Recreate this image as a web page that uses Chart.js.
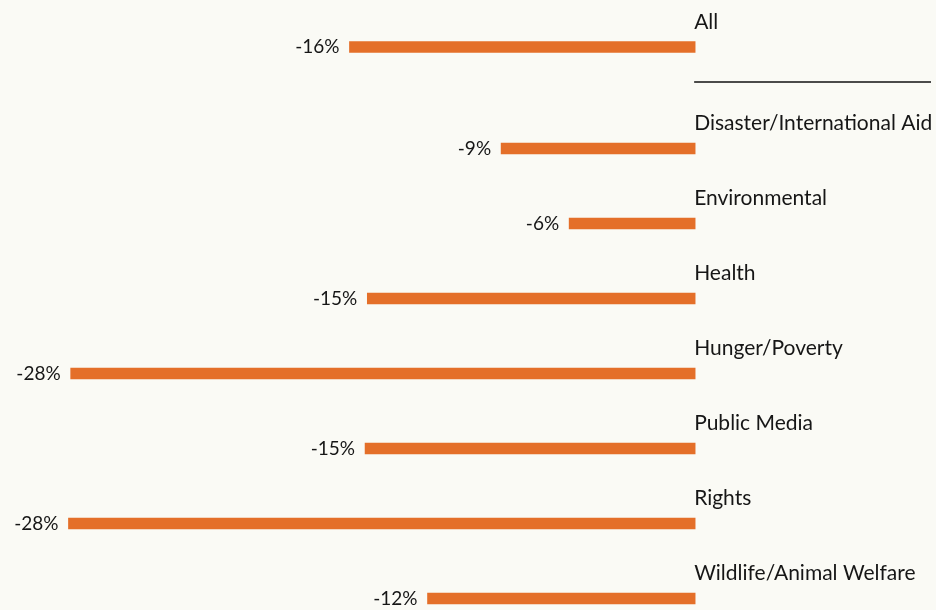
<!DOCTYPE html>
<html>
<head>
<meta charset="utf-8">
<script src="https://cdn.jsdelivr.net/npm/chart.js@4"></script>
<style>
  html, body { margin: 0; padding: 0; background: #fafaf5; width: 936px; height: 610px; overflow: hidden; }
  #topBox { position: absolute; left: 0; top: 0; width: 936px; height: 94px; }
  #mainBox { position: absolute; left: 0; top: 111px; width: 936px; height: 525px; }
</style>
</head>
<body>
<div id="topBox"><canvas id="topChart"></canvas></div>
<div id="mainBox"><canvas id="mainChart"></canvas></div>
<script>
// overall row
const totalLabels = ["All"];
const totalValues = [-15.5];
const totalText = ["-16%"];

// by cause
const categories = [
  "Disaster/International Aid",
  "Environmental",
  "Health",
  "Hunger/Poverty",
  "Public Media",
  "Rights",
  "Wildlife/Animal Welfare"
];
const changeValues = [-8.7, -5.65, -14.7, -28.0, -14.8, -28.1, -12.0];
const changeText = ["-9%", "-6%", "-15%", "-28%", "-15%", "-28%", "-12%"];

const BAR_COLOR = "#e46f29";
const TEXT_COLOR = "#161616";
const FONT = "Lato, 'Open Sans', sans-serif";

// names above the bar, value at the bar's left end
const barLabels = {
  id: "barLabels",
  afterDatasetsDraw(chart, args, opts) {
    const ctx = chart.ctx;
    const zeroX = chart.scales.x.getPixelForValue(0);
    const meta = chart.getDatasetMeta(0);
    ctx.save();
    ctx.fillStyle = TEXT_COLOR;
    ctx.textBaseline = "middle";
    meta.data.forEach((bar, i) => {
      ctx.font = "21px " + FONT;
      ctx.textAlign = "left";
      ctx.fillText(chart.data.labels[i], zeroX - 1, bar.y - 25);
      ctx.font = "19px " + FONT;
      ctx.textAlign = "right";
      ctx.fillText(opts.text[i], bar.x - 10, bar.y);
    });
    ctx.restore();
  }
};

// thin rule under the "All" row
const separator = {
  id: "separator",
  afterDraw(chart) {
    const ctx = chart.ctx;
    const zeroX = chart.scales.x.getPixelForValue(0);
    const y = chart.getDatasetMeta(0).data[0].y + 35;
    ctx.save();
    ctx.strokeStyle = "#111";
    ctx.lineWidth = 1.5;
    ctx.beginPath();
    ctx.moveTo(zeroX - 1, y);
    ctx.lineTo(chart.chartArea.right - 5, y);
    ctx.stroke();
    ctx.restore();
  }
};

function makeChart(id, labels, values, text, extra) {
  return new Chart(document.getElementById(id), {
    type: "bar",
    data: {
      labels: labels,
      datasets: [{
        data: values,
        backgroundColor: BAR_COLOR,
        barThickness: 11,
        borderWidth: 0
      }]
    },
    options: {
      indexAxis: "y",
      responsive: true,
      maintainAspectRatio: false,
      animation: false,
      layout: { padding: 0 },
      scales: {
        x: { display: false, min: -31.17, max: 10.8 },
        y: { display: false }
      },
      plugins: {
        legend: { display: false },
        tooltip: { enabled: false },
        barLabels: { text: text }
      }
    },
    plugins: extra ? [barLabels, extra] : [barLabels]
  });
}

makeChart("topChart", totalLabels, totalValues, totalText, separator);
makeChart("mainChart", categories, changeValues, changeText);
</script>
</body>
</html>
